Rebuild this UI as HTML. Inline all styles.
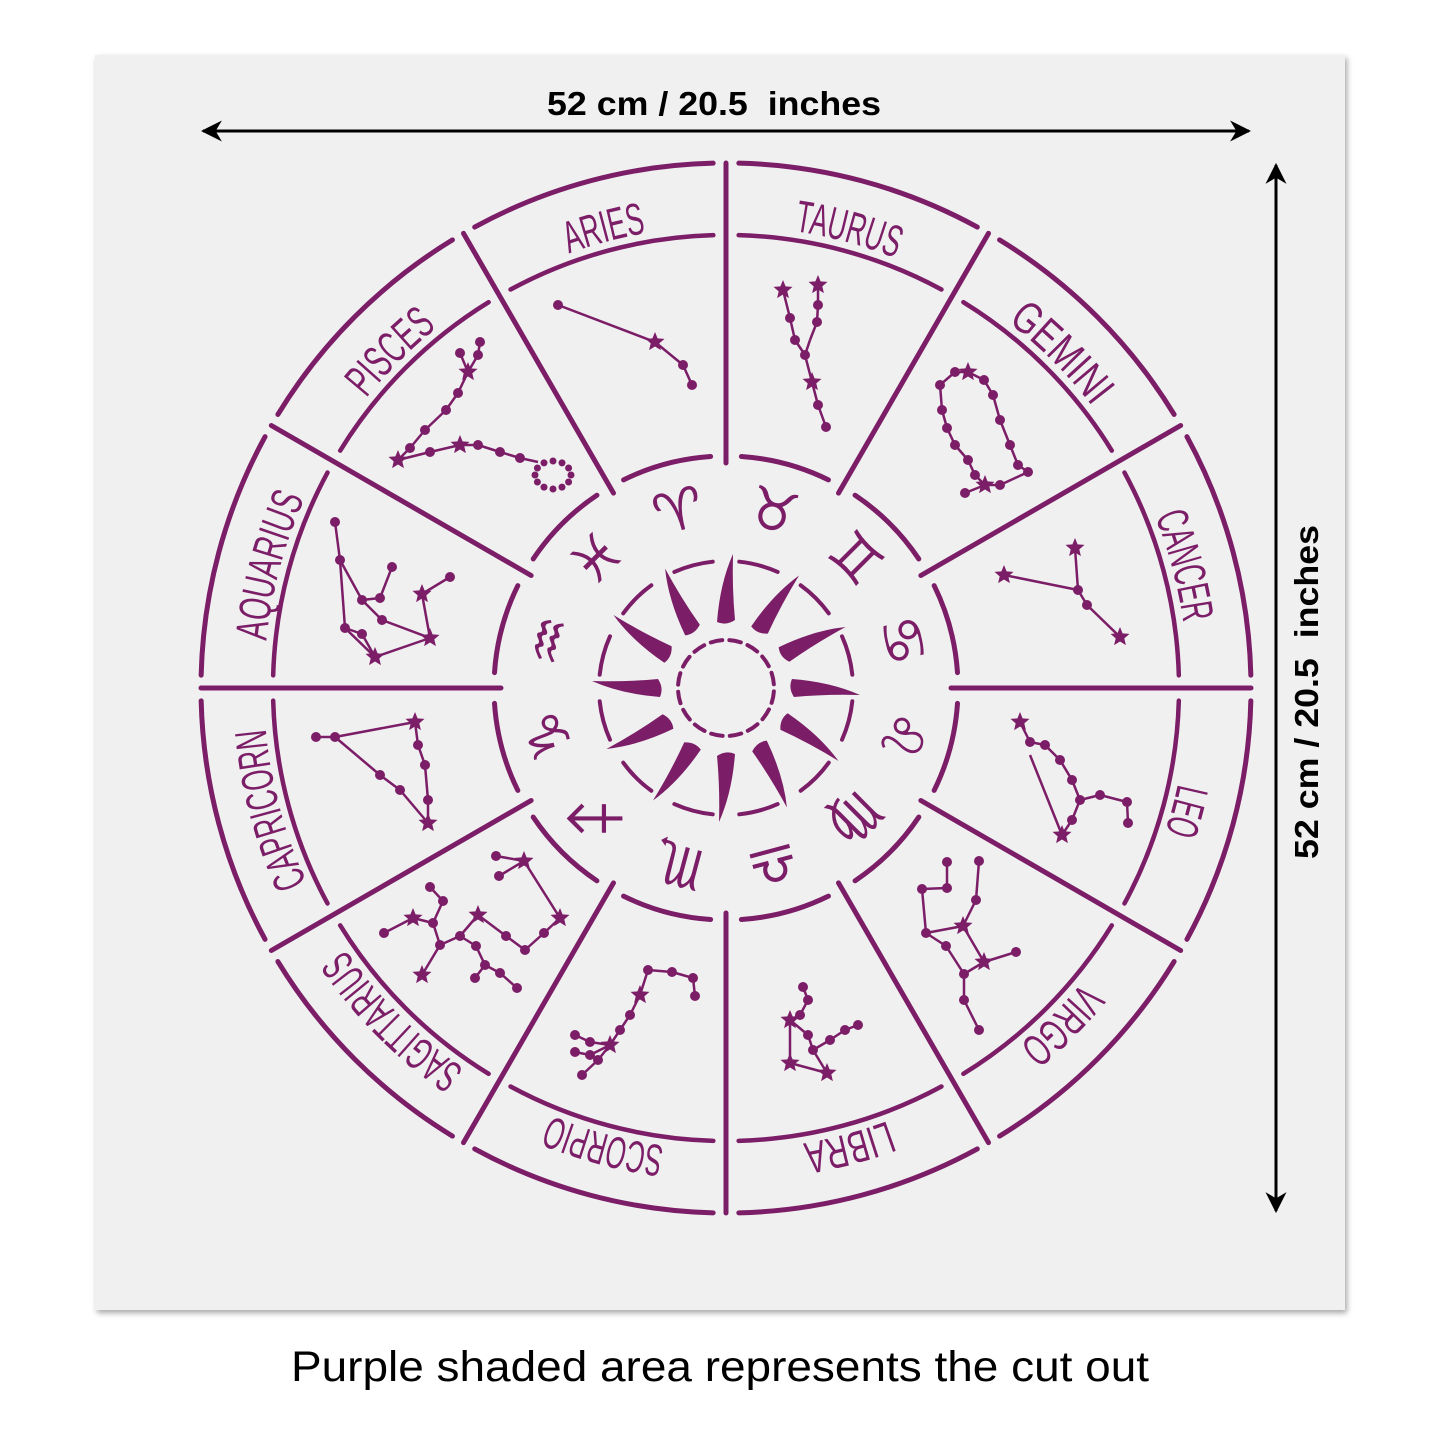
<!DOCTYPE html>
<html><head><meta charset="utf-8"><style>
html,body{margin:0;padding:0;background:#fff;width:1445px;height:1445px;overflow:hidden}
svg{display:block}
</style></head><body>
<svg id="s" width="1445" height="1445" viewBox="0 0 1445 1445" xmlns="http://www.w3.org/2000/svg">
<defs>
<filter id="sh" x="-5%" y="-5%" width="110%" height="110%"><feDropShadow dx="2" dy="3" stdDeviation="3" flood-color="#000" flood-opacity="0.35"/></filter>
<marker id="ah" viewBox="0 0 10 10" refX="9" refY="5" markerWidth="7" markerHeight="7" orient="auto-start-reverse"><path d="M0,0 L10,5 L0,10 L3,5 z" fill="#000"/></marker>
<path id="ring" d="M726,226 A462,462 0 1 1 726,1150 A462,462 0 1 1 726,226"/>
</defs>
<rect x="95" y="55" width="1250" height="1255" fill="#f0f0f0" filter="url(#sh)"/>
<line x1="203" y1="131" x2="1249" y2="131" stroke="#000" stroke-width="3" marker-start="url(#ah)" marker-end="url(#ah)"/>
<text x="714" y="115" font-family="Liberation Sans, sans-serif" font-weight="bold" font-size="33" text-anchor="middle" textLength="334" lengthAdjust="spacingAndGlyphs" xml:space="preserve">52 cm / 20.5  inches</text>
<line x1="1276" y1="165" x2="1276" y2="1211" stroke="#000" stroke-width="3" marker-start="url(#ah)" marker-end="url(#ah)"/>
<text transform="translate(1318,692) rotate(-90)" font-family="Liberation Sans, sans-serif" font-weight="bold" font-size="33" text-anchor="middle" textLength="334" lengthAdjust="spacingAndGlyphs" xml:space="preserve">52 cm / 20.5  inches</text>
<text x="720" y="1381" font-family="Liberation Sans, sans-serif" font-size="43" text-anchor="middle" textLength="858" lengthAdjust="spacingAndGlyphs">Purple shaded area represents the cut out</text>
<g id="w" fill="none" stroke="#7b1d67" stroke-linecap="round"></g>
<g font-family="Liberation Sans, sans-serif" font-size="45" fill="#7b1d67" text-anchor="middle">
<text><textPath href="#ring" startOffset="2782" textLength="80" lengthAdjust="spacingAndGlyphs">ARIES</textPath></text>
<text><textPath href="#ring" startOffset="121" textLength="105" lengthAdjust="spacingAndGlyphs">TAURUS</textPath></text>
<text><textPath href="#ring" startOffset="363" textLength="120" lengthAdjust="spacingAndGlyphs">GEMINI</textPath></text>
<text><textPath href="#ring" startOffset="605" textLength="110" lengthAdjust="spacingAndGlyphs">CANCER</textPath></text>
<text><textPath href="#ring" startOffset="847" textLength="50" lengthAdjust="spacingAndGlyphs">LEO</textPath></text>
<text><textPath href="#ring" startOffset="1089" textLength="90" lengthAdjust="spacingAndGlyphs">VIRGO</textPath></text>
<text><textPath href="#ring" startOffset="1330" textLength="88" lengthAdjust="spacingAndGlyphs">LIBRA</textPath></text>
<text><textPath href="#ring" startOffset="1572" textLength="118" lengthAdjust="spacingAndGlyphs">SCORPIO</textPath></text>
<text><textPath href="#ring" startOffset="1814" textLength="170" lengthAdjust="spacingAndGlyphs">SAGITTARIUS</textPath></text>
<text><textPath href="#ring" startOffset="2056" textLength="160" lengthAdjust="spacingAndGlyphs">CAPRICORN</textPath></text>
<text><textPath href="#ring" startOffset="2298" textLength="148" lengthAdjust="spacingAndGlyphs">AQUARIUS</textPath></text>
<text><textPath href="#ring" startOffset="2540" textLength="100" lengthAdjust="spacingAndGlyphs">PISCES</textPath></text>
</g>
<g font-family="DejaVu Sans, sans-serif" font-size="56" fill="#7b1d67" text-anchor="middle">
<text x="726" y="524" transform="rotate(-15 726 688)">♈</text>
<text x="726" y="524" transform="rotate(15 726 688)">♉</text>
<text x="726" y="524" transform="rotate(45 726 688)">♊</text>
<text x="726" y="524" transform="rotate(75 726 688)">♋</text>
<text x="726" y="524" transform="rotate(105 726 688)">♌</text>
<text x="726" y="524" transform="rotate(135 726 688)">♍</text>
<text x="726" y="524" transform="rotate(165 726 688)">♎</text>
<text x="726" y="524" transform="rotate(195 726 688)">♏</text>
<text x="726" y="524" transform="rotate(225 726 688)">♐</text>
<text x="726" y="524" transform="rotate(255 726 688)">♑</text>
<text x="726" y="524" transform="rotate(285 726 688)">♒</text>
<text x="726" y="524" transform="rotate(315 726 688)">♓</text>
</g>
<g id="c" stroke="#7b1d67" fill="#7b1d67" stroke-width="2.5"></g>
</svg>
<script>
var NS="http://www.w3.org/2000/svg",cx=726,cy=688,w=document.getElementById('w'),c=document.getElementById('c');
function el(p,t,a){var e=document.createElementNS(NS,t);for(var k in a)e.setAttribute(k,a[k]);p.appendChild(e);return e;}
function pt(r,a){a=a*Math.PI/180;return [cx+r*Math.sin(a),cy-r*Math.cos(a)];}
function arc(r,a1,a2,sw){var p=pt(r,a1),q=pt(r,a2);el(w,'path',{d:'M'+p+' A'+r+' '+r+' 0 0 1 '+q,'stroke-width':sw});}
for(var i=0;i<12;i++){var a=i*30;
 arc(525,a+1.4,a+28.6,5);arc(453,a+1.6,a+28.4,4.5);arc(232,a+3.8,a+26.2,5);
 var p=pt(525,a),q=pt(225,a);el(w,'line',{x1:p[0],y1:p[1],x2:q[0],y2:q[1],'stroke-width':5});
 arc(127,a+15-9,a+15+9,4);
}
for(var i=0;i<16;i++){var a=i*22.5;arc(48,a+4,a+18,4);}
var rays=el(document.getElementById('s'),'g',{fill:'#7b1d67'});
for(var i=0;i<12;i++){el(rays,'path',{d:'M-9,-66 Q-6,-105 7,-134 Q6,-100 9,-68 Q0,-62 -9,-66 Z',transform:'translate('+cx+','+cy+') rotate('+(i*30)+')'});}
function star(x,y){var s='';for(var k=0;k<10;k++){var r=k%2?4.5:10,an=k*Math.PI/5;s+=(k?'L':'M')+(x+r*Math.sin(an)).toFixed(1)+','+(y-r*Math.cos(an)).toFixed(1);}el(c,'path',{d:s+'Z',stroke:'none'});}
function line(pts){for(var i=0;i<pts.length-1;i++)el(c,'line',{x1:pts[i][0],y1:pts[i][1],x2:pts[i+1][0],y2:pts[i+1][1]});}
function dots(pts){pts.forEach(function(p){el(c,'circle',{cx:p[0],cy:p[1],r:5,stroke:'none'});});}
var L=[
[[558,305],[655,342],[683,365],[692,385]],
[[783,290],[790,318],[795,340],[805,355],[812,382],[818,405],[826,427]],
[[818,285],[818,305],[817,322],[810,340],[805,355]],
[[940,385],[955,372],[968,372],[984,380],[993,395],[1000,420],[1010,445],[1018,465],[1028,472],[1000,485],[985,485],[965,493]],
[[940,385],[942,410],[947,428],[955,445],[968,460],[975,475],[985,485]],
[[1004,575],[1078,590]],[[1075,548],[1078,590],[1087,605],[1120,637]],
[[1020,722],[1030,742],[1045,745],[1060,760],[1072,780],[1080,800],[1100,795],[1127,802],[1128,823]],[[1080,800],[1072,820],[1062,835],[1030,755]],
[[947,862],[947,888],[922,889],[926,933],[963,926],[976,900],[979,861]],[[926,933],[946,946],[964,974],[984,962],[1016,952]],[[963,926],[984,962]],[[964,974],[964,1000],[979,1030]],
[[803,987],[808,1000],[800,1015],[790,1020],[808,1035],[813,1050],[827,1073],[790,1063],[790,1020]],[[813,1050],[830,1040],[845,1030],[858,1025]],
[[648,970],[672,972],[693,978],[695,996]],[[648,970],[640,995],[630,1015],[620,1030],[610,1045],[590,1055],[575,1052]],[[610,1045],[598,1060],[582,1075]],[[610,1045],[590,1042],[575,1035]],
[[496,856],[524,861]],[[499,876],[524,861],[560,918],[544,933],[525,950],[506,936],[478,915],[460,936]],[[430,887],[443,901],[433,923],[413,918],[384,933]],[[433,923],[440,945],[460,936],[476,946],[485,965],[500,973],[517,988]],[[485,965],[475,978]],[[440,945],[422,975]],
[[316,737],[335,737],[415,722],[418,745],[425,765],[428,800],[428,823],[400,790],[380,775],[335,737]],
[[335,522],[340,560],[345,628],[375,657],[430,638],[422,594],[450,577]],[[345,628],[362,634],[375,657]],[[340,560],[362,600],[380,598],[392,567]],[[362,600],[382,620],[430,638]],
[[480,342],[478,355],[468,372],[458,393],[446,410],[425,430],[410,448],[398,460],[430,452],[460,445],[478,445],[500,452],[520,458],[538,462]],[[460,353],[468,372]]
];
L.forEach(line);
var D=[[558,305],[683,365],[692,385],[790,318],[795,340],[805,355],[818,405],[826,427],[818,305],[817,322],[940,385],[955,372],[984,380],[993,395],[1000,420],[1010,445],[1018,465],[1028,472],[1000,485],[965,493],[942,410],[947,428],[955,445],[968,460],[975,475],[1078,590],[1087,605],[1030,742],[1045,745],[1060,760],[1072,780],[1080,800],[1100,795],[1127,802],[1128,823],[1072,820],[947,862],[979,861],[922,889],[947,888],[976,900],[926,933],[946,946],[1016,952],[964,974],[964,1000],[979,1030],[803,987],[808,1000],[800,1015],[808,1035],[813,1050],[830,1040],[845,1030],[858,1025],[648,970],[672,972],[693,978],[695,996],[630,1015],[620,1030],[590,1055],[575,1052],[598,1060],[582,1075],[590,1042],[575,1035],[496,856],[499,876],[544,933],[525,950],[506,936],[460,936],[430,887],[443,901],[433,923],[384,933],[440,945],[476,946],[485,965],[500,973],[517,988],[475,978],[316,737],[335,737],[418,745],[425,765],[428,800],[400,790],[380,775],[335,522],[340,560],[345,628],[362,634],[362,600],[380,598],[392,567],[382,620],[450,577],[480,342],[478,355],[458,393],[446,410],[425,430],[410,448],[430,452],[478,445],[500,452],[520,458],[460,353]];
dots(D);
for(var k=0;k<12;k++){var an=k*30*Math.PI/180;el(c,'circle',{cx:553+18*Math.cos(an),cy:475+14*Math.sin(an),r:3.5,stroke:'none'});}
[[655,342],[783,290],[818,285],[812,382],[968,372],[985,485],[1004,575],[1075,548],[1120,637],[1020,722],[1062,835],[963,926],[984,962],[790,1020],[790,1063],[827,1073],[640,995],[610,1045],[524,861],[413,918],[478,915],[560,918],[422,975],[415,722],[428,823],[422,594],[430,638],[375,657],[468,372],[460,445],[398,460]].forEach(function(p){star(p[0],p[1]);});
</script>
</body></html>
